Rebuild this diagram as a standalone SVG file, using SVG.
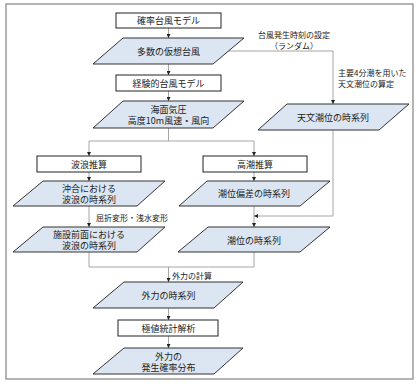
<svg xmlns="http://www.w3.org/2000/svg" width="419" height="386" viewBox="0 0 419 386">
<defs>
<style>
text{font-family:"Noto Sans CJK JP","Noto Sans",sans-serif;font-size:9px;fill:#222;dominant-baseline:central}
.c{text-anchor:middle}
.l{font-size:8px}
.box{fill:#fff;stroke:#222;stroke-width:1}
.par{fill:#dce6f2;stroke:#333;stroke-width:1}
.ln{fill:none;stroke:#a6a6a6;stroke-width:1}
</style>
<marker id="ah" viewBox="0 0 6 6" refX="6" refY="3" markerWidth="4" markerHeight="4" orient="auto" markerUnits="userSpaceOnUse">
<path d="M0,0L6,3L0,6z" fill="#222"/>
</marker>
</defs>
<rect x="0" y="0" width="419" height="386" fill="#fff"/>
<rect x="6" y="4" width="407" height="375" fill="#fff" stroke="#8c8c8c" stroke-width="1.3"/>

<g id="connectors">
<path class="ln" d="M168.5,28V38" marker-end="url(#ah)"/>
<path class="ln" d="M168.5,64V75" marker-end="url(#ah)"/>
<path class="ln" d="M168.5,91V101" marker-end="url(#ah)"/>
<path class="ln" d="M228,51H333V104" marker-end="url(#ah)"/>
<path class="ln" d="M168.5,128V141H89V156" marker-end="url(#ah)"/>
<path class="ln" d="M168.5,141H254V156" marker-end="url(#ah)"/>
<path class="ln" d="M89,172V181" marker-end="url(#ah)"/>
<path class="ln" d="M254,172V181" marker-end="url(#ah)"/>
<path class="ln" d="M89,206V227" marker-end="url(#ah)"/>
<path class="ln" d="M254,206V227" marker-end="url(#ah)"/>
<path class="ln" d="M333,130V216H254" marker-end="url(#ah)"/>
<path class="ln" d="M89,252V267H254V252"/>
<path class="ln" d="M168.5,267V282" marker-end="url(#ah)"/>
<path class="ln" d="M168.5,308V320" marker-end="url(#ah)"/>
<path class="ln" d="M168.5,336V348" marker-end="url(#ah)"/>
</g>

<g id="n1"><rect class="box" x="116" y="13" width="105" height="15"/><text class="c" x="168.5" y="20.5">確率台風モデル</text></g>
<g id="n2"><polygon class="par" points="123,38 244,38 213,64 93,64"/><text class="c" x="168.5" y="51">多数の仮想台風</text></g>
<g id="n3"><rect class="box" x="116" y="75" width="105" height="16"/><text class="c" x="168.5" y="83">経験的台風モデル</text></g>
<g id="n4"><polygon class="par" points="123,101 244,101 213,128 93,128"/><text class="c" x="168.5" y="109">海面気圧</text><text class="c" x="168.5" y="120.5">高度10m風速・風向</text></g>
<g id="lab1"><text class="c l" x="294" y="34.5">台風発生時刻の設定</text><text class="c l" x="294" y="45">（ランダム）</text></g>
<g id="lab2"><text class="l" x="338" y="72.5">主要4分潮を用いた</text><text class="l" x="338" y="83">天文潮位の算定</text></g>
<g id="n5"><polygon class="par" points="287,104 409,104 379,130 258,130"/><text class="c" x="333" y="117">天文潮位の時系列</text></g>
<g id="n6"><rect class="box" x="37" y="156" width="104" height="16"/><text class="c" x="89" y="164">波浪推算</text></g>
<g id="n7"><rect class="box" x="203" y="156" width="104" height="16"/><text class="c" x="255" y="164">高潮推算</text></g>
<g id="n8"><polygon class="par" points="43,181 165,181 137,206 13,206"/><text class="c" x="89" y="188">沖合における</text><text class="c" x="89" y="199.5">波浪の時系列</text></g>
<g id="n9"><polygon class="par" points="207,181 330,181 300,206 179,206"/><text class="c" x="254" y="193.5">潮位偏差の時系列</text></g>
<g id="lab3"><text class="l" x="96" y="217">屈折変形・浅水変形</text></g>
<g id="n10"><polygon class="par" points="43,227 165,227 137,252 13,252"/><text class="c" x="89" y="234">施設前面における</text><text class="c" x="89" y="245.5">波浪の時系列</text></g>
<g id="n11"><polygon class="par" points="208,227 330,227 300,252 178,252"/><text class="c" x="254" y="240">潮位の時系列</text></g>
<g id="lab4"><text class="l" x="172" y="275">外力の計算</text></g>
<g id="n12"><polygon class="par" points="124,282 243,282 214,308 93,308"/><text class="c" x="168.5" y="295">外力の時系列</text></g>
<g id="n13"><rect class="box" x="118" y="320" width="100" height="16"/><text class="c" x="168.5" y="328">極値統計解析</text></g>
<g id="n14"><polygon class="par" points="124,348 243,348 214,374 93,374"/><text class="c" x="168.5" y="356">外力の</text><text class="c" x="168.5" y="367.5">発生確率分布</text></g>
</svg>
